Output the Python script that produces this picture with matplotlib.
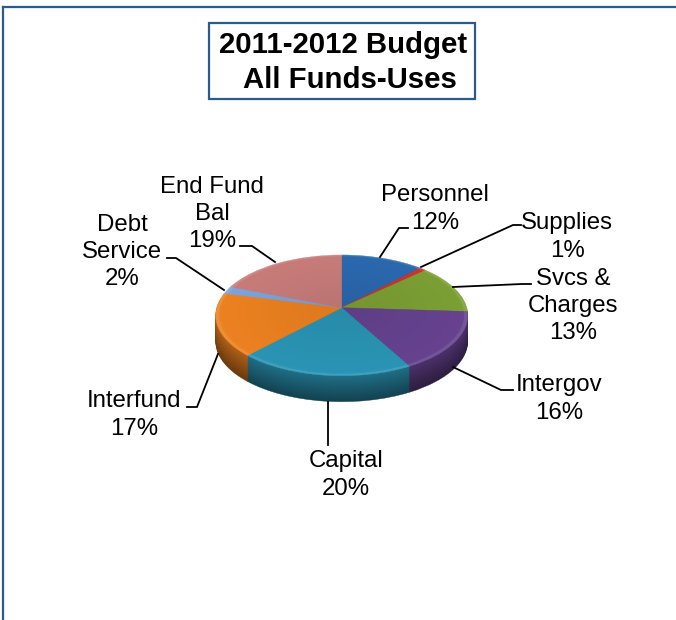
import numpy as np
import matplotlib
matplotlib.use("Agg")
import matplotlib.pyplot as plt
from matplotlib.colors import to_rgb
from matplotlib.patches import Rectangle
from matplotlib.transforms import Transform

plt.rcParams['font.family'] = ['Liberation Sans', 'DejaVu Sans']

categories = ["Personnel", "Supplies", "Svcs & Charges", "Intergov", "Capital",
              "Interfund", "Debt Service", "End Fund Bal"]
shares = [12, 1, 13, 16, 20, 17, 2, 19]
slice_colors = ["#2a68ae", "#c8352e", "#7c9f34", "#66428f", "#2a94b4",
                "#ec8120", "#7fa3d8", "#c87c7a"]

label_lines = {
    "Personnel": "Personnel\n12%",
    "Supplies": "Supplies\n1%",
    "Svcs & Charges": "Svcs &\nCharges\n13%",
    "Intergov": "Intergov\n16%",
    "Capital": "Capital\n20%",
    "Interfund": "Interfund\n17%",
    "Debt Service": "Debt\nService\n2%",
    "End Fund Bal": "End Fund\nBal\n19%",
}
# centre of each label block, in pixels
label_pos = {
    "Personnel": (435, 209),
    "Supplies": (567, 237),
    "Svcs & Charges": (573, 306),
    "Intergov": (559, 399),
    "Capital": (346, 475),
    "Interfund": (134, 415),
    "Debt Service": (122, 252),
    "End Fund Bal": (212, 214),
}
leaders = {
    "Personnel": [(380, 257), (399, 228), (408, 228)],
    "Supplies": [(421, 267), (513, 225), (521, 225)],
    "Svcs & Charges": [(453, 287), (522, 284), (531, 284)],
    "Intergov": [(453, 367), (501, 390), (513, 390)],
    "Capital": [(328, 402), (328, 445)],
    "Interfund": [(218, 354), (197, 407), (187, 407)],
    "Debt Service": [(224, 290), (176, 258), (167, 258)],
    "End Fund Bal": [(275, 262), (252, 246), (240, 246)],
}

FRAME_BLUE = "#2b5a8f"
DEPTH = 26


class TiltTransform(Transform):
    # unit pie -> pixels, tilted back with a bit of perspective
    input_dims = 2
    output_dims = 2

    def __init__(self, drop=0.0):
        super().__init__()
        self.drop = drop

    def transform_non_affine(self, xy):
        xy = np.asarray(xy)
        w = 1 + 0.1267 * xy[:, 1]
        return np.column_stack([341.7 + 125 * xy[:, 0] / w,
                                307.7 + self.drop - 59.4 * xy[:, 1] / w])


def blend(color, target, amount):
    c = np.array(to_rgb(color))
    return tuple(c + (np.array(target) - c) * amount)


def draw_pie(ax, colors, radius=1.0, drop=0.0):
    wedges, _ = ax.pie(shares, colors=colors, startangle=90, counterclock=False,
                       radius=radius, frame=True)
    tilt = TiltTransform(drop) + ax.transData
    for w, c in zip(wedges, colors):
        w.set_transform(tilt)
        w.set_edgecolor(c)
        w.set_linewidth(0.3)


fig = plt.figure(figsize=(6.76, 6.2), dpi=100, facecolor="white")
ax = fig.add_axes([0, 0, 1, 1])

# side wall: stacked copies, darker towards the bottom
for d in range(DEPTH, 0, -1):
    t = d / DEPTH
    draw_pie(ax, [blend(c, (0, 0, 0), 0.25 + 0.3 * t) for c in slice_colors], drop=d)

# top face, barely lighter at the rim and a little darker near the middle
for r in np.linspace(1.0, 0.1, 31):
    if r > 0.98:
        cols = [blend(c, (1, 1, 1), 0.1) for c in slice_colors]
    else:
        cols = [blend(c, (0, 0, 0), 0.07 * (1 - r)) for c in slice_colors]
    draw_pie(ax, cols, radius=r)

ax.set_aspect("auto")
ax.set_xlim(0, 676)
ax.set_ylim(620, 0)
ax.axis("off")

for name in categories:
    pts = np.array(leaders[name])
    ax.plot(pts[:, 0], pts[:, 1], color="black", lw=1.3, solid_joinstyle="miter")
    x, y = label_pos[name]
    ax.text(x, y, label_lines[name], ha="center", va="center", fontsize=17.3,
            linespacing=1.31, color="black")

# outer frame, only top and left edges show
ax.plot([3, 3], [620, 7], color=FRAME_BLUE, lw=1.6, clip_on=False)
ax.plot([3, 676], [7, 7], color=FRAME_BLUE, lw=1.6, clip_on=False)

# title box
ax.add_patch(Rectangle((209, 23), 266, 76, facecolor="white", edgecolor=FRAME_BLUE, lw=1.6))
ax.text(343, 45, "2011-2012 Budget", ha="center", va="center", fontsize=21.2,
        fontweight="bold", color="black")
ax.text(350, 80, "All Funds-Uses", ha="center", va="center", fontsize=21.2,
        fontweight="bold", color="black")

fig.savefig("out.png", dpi=100)
